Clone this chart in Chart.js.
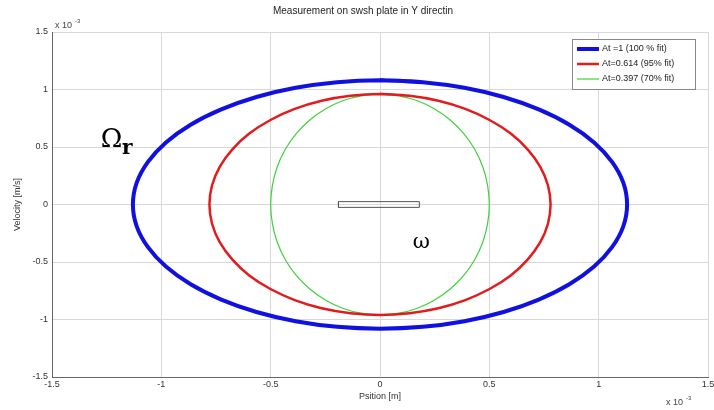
<!DOCTYPE html>
<html>
<head>
<meta charset="utf-8">
<script src="https://cdn.jsdelivr.net/npm/chart.js@4/dist/chart.umd.min.js"></script>
<style>
  html, body { margin: 0; padding: 0; background: #fff; }
  #wrap { width: 714px; height: 410px; }
</style>
</head>
<body>
<div id="wrap"><canvas id="plot" width="714" height="410"></canvas></div>
<script>
// values in units of 1e-3 (axes show "x 10^-3")
var seriesLabels = ['At =1 (100 % fit)', 'At=0.614 (95% fit)', 'At=0.397 (70% fit)'];
var seriesColors = ['#1010e0', '#e21c1c', '#3cd23c'];
var seriesWidths = [4, 2.5, 1.2];

// points, going clockwise from the top, one point of overlap at the end
var blueX  = [0, 0.196, 0.386, 0.565, 0.726, 0.866, 0.979, 1.062, 1.113, 1.13,
              1.113, 1.062, 0.979, 0.866, 0.726, 0.565, 0.386, 0.196, 0,
              -0.196, -0.386, -0.565, -0.726, -0.866, -0.979, -1.062, -1.113, -1.13,
              -1.113, -1.062, -0.979, -0.866, -0.726, -0.565, -0.386, -0.196, 0, 0.196];
var blueY  = [1.08, 1.064, 1.015, 0.935, 0.827, 0.694, 0.54, 0.369, 0.188, 0,
              -0.188, -0.369, -0.54, -0.694, -0.827, -0.935, -1.015, -1.064, -1.08,
              -1.064, -1.015, -0.935, -0.827, -0.694, -0.54, -0.369, -0.188, 0,
              0.188, 0.369, 0.54, 0.694, 0.827, 0.935, 1.015, 1.064, 1.08, 1.064];
var redX   = [0, 0.135, 0.267, 0.39, 0.501, 0.598, 0.675, 0.733, 0.768, 0.78,
              0.768, 0.733, 0.675, 0.598, 0.501, 0.39, 0.267, 0.135, 0,
              -0.135, -0.267, -0.39, -0.501, -0.598, -0.675, -0.733, -0.768, -0.78,
              -0.768, -0.733, -0.675, -0.598, -0.501, -0.39, -0.267, -0.135, 0, 0.135];
var redY   = [0.96, 0.945, 0.902, 0.831, 0.735, 0.617, 0.48, 0.328, 0.167, 0,
              -0.167, -0.328, -0.48, -0.617, -0.735, -0.831, -0.902, -0.945, -0.96,
              -0.945, -0.902, -0.831, -0.735, -0.617, -0.48, -0.328, -0.167, 0,
              0.167, 0.328, 0.48, 0.617, 0.735, 0.831, 0.902, 0.945, 0.96, 0.945];
var greenX = [0, 0.087, 0.171, 0.25, 0.321, 0.383, 0.433, 0.47, 0.492, 0.5,
              0.492, 0.47, 0.433, 0.383, 0.321, 0.25, 0.171, 0.087, 0,
              -0.087, -0.171, -0.25, -0.321, -0.383, -0.433, -0.47, -0.492, -0.5,
              -0.492, -0.47, -0.433, -0.383, -0.321, -0.25, -0.171, -0.087, 0, 0.087];
var greenY = [0.96, 0.945, 0.902, 0.831, 0.735, 0.617, 0.48, 0.328, 0.167, 0,
              -0.167, -0.328, -0.48, -0.617, -0.735, -0.831, -0.902, -0.945, -0.96,
              -0.945, -0.902, -0.831, -0.735, -0.617, -0.48, -0.328, -0.167, 0,
              0.167, 0.328, 0.48, 0.617, 0.735, 0.831, 0.902, 0.945, 0.96, 0.945];

// the small plate outline in the middle
var plateX = [-0.19, 0.18, 0.18, -0.19, -0.19];
var plateY = [-0.025, -0.025, 0.025, 0.025, -0.025];

var tickValues = [-1.5, -1, -0.5, 0, 0.5, 1, 1.5];
var tickLabels = ['-1.5', '-1', '-0.5', '0', '0.5', '1', '1.5'];

var toPoints = function(xs, ys) {
  return xs.map(function(x, i) { return {x: x, y: ys[i]}; });
};

var lineSet = function(i, xs, ys) {
  return {
    label: seriesLabels[i],
    data: toPoints(xs, ys),
    showLine: true,
    borderColor: seriesColors[i],
    borderWidth: seriesWidths[i],
    pointRadius: 0,
    tension: 0.33,
    fill: false
  };
};

var fmtTick = function(v) {
  var i = tickValues.indexOf(Math.round(v * 10) / 10);
  return i >= 0 ? tickLabels[i] : '';
};

var extrasPlugin = {
  id: 'extras',
  afterDraw: function(chart) {
    var ctx = chart.ctx, a = chart.chartArea;
    var xs = chart.scales.x, ys = chart.scales.y;
    ctx.save();

    // exponent labels
    ctx.fillStyle = '#444';
    ctx.font = '9px "Liberation Sans", Arial, sans-serif';
    ctx.textBaseline = 'alphabetic';
    ctx.textAlign = 'left';
    ctx.fillText('x 10', a.left + 3, a.top - 4);
    ctx.font = '6px "Liberation Sans", Arial, sans-serif';
    ctx.fillText('-3', a.left + 23, a.top - 9);
    ctx.font = '9px "Liberation Sans", Arial, sans-serif';
    ctx.fillText('x 10', a.right - 42, a.bottom + 28);
    ctx.font = '6px "Liberation Sans", Arial, sans-serif';
    ctx.fillText('-3', a.right - 22, a.bottom + 23);

    // annotations
    ctx.fillStyle = '#000';
    ctx.font = '26px "DejaVu Serif", "Liberation Serif", serif';
    ctx.fillText('\u03A9', xs.getPixelForValue(-1.277), ys.getPixelForValue(0.496));
    ctx.font = 'bold 20px "DejaVu Serif", "Liberation Serif", serif';
    ctx.fillText('r', xs.getPixelForValue(-1.18), ys.getPixelForValue(0.435));
    ctx.font = '21px "DejaVu Serif", "Liberation Serif", serif';
    ctx.fillText('\u03C9', xs.getPixelForValue(0.15), ys.getPixelForValue(-0.374));

    // legend box inside top right
    var bx = a.right - 136, by = a.top + 7, bw = 123, bh = 50;
    ctx.fillStyle = '#fff';
    ctx.fillRect(bx, by, bw, bh);
    ctx.strokeStyle = '#888';
    ctx.lineWidth = 1;
    ctx.strokeRect(bx + 0.5, by + 0.5, bw, bh);
    ctx.font = '9px "Liberation Sans", Arial, sans-serif';
    ctx.textBaseline = 'middle';
    for (var i = 0; i < seriesLabels.length; i++) {
      var ly = by + 10 + i * 15;
      ctx.strokeStyle = seriesColors[i];
      ctx.lineWidth = seriesWidths[i];
      ctx.beginPath();
      ctx.moveTo(bx + 5, ly);
      ctx.lineTo(bx + 27, ly);
      ctx.stroke();
      ctx.fillStyle = '#222';
      ctx.fillText(seriesLabels[i], bx + 30, ly);
    }
    ctx.restore();
  }
};

var gridColor = '#d8d8d8';
var tickFont = { family: '"Liberation Sans", Arial, sans-serif', size: 9 };

new Chart(document.getElementById('plot').getContext('2d'), {
  type: 'scatter',
  data: {
    datasets: [
      lineSet(0, blueX, blueY),
      lineSet(1, redX, redY),
      lineSet(2, greenX, greenY),
      {
        label: 'plate',
        data: toPoints(plateX, plateY),
        showLine: true,
        borderColor: '#555',
        borderWidth: 1,
        pointRadius: 0,
        tension: 0,
        fill: false
      }
    ]
  },
  options: {
    responsive: false,
    animation: false,
    layout: { padding: { left: 12, right: 0, top: 0, bottom: 8 } },
    plugins: {
      legend: { display: false },
      tooltip: { enabled: false },
      title: {
        display: true,
        text: 'Measurement on swsh plate in Y directin',
        color: '#222',
        font: { family: '"Liberation Sans", Arial, sans-serif', size: 10, weight: 'normal' },
        padding: { top: 5, bottom: 15 }
      }
    },
    scales: {
      x: {
        type: 'linear',
        min: -1.5,
        max: 1.5,
        afterBuildTicks: function(s) { s.ticks = tickValues.map(function(v) { return {value: v}; }); },
        afterFit: function(s) { s.height = 25; s.paddingRight = 6; },
        ticks: { callback: fmtTick, color: '#333', font: tickFont, padding: 2, maxRotation: 0 },
        grid: { color: gridColor, drawTicks: false },
        border: { color: '#666' },
        title: { display: true, text: 'Psition [m]', color: '#333', font: tickFont, padding: { top: 1, bottom: 0 } }
      },
      y: {
        type: 'linear',
        min: -1.5,
        max: 1.5,
        afterBuildTicks: function(s) { s.ticks = tickValues.map(function(v) { return {value: v}; }); },
        afterFit: function(s) { s.width = 40; },
        ticks: { callback: fmtTick, color: '#333', font: tickFont, padding: 4 },
        grid: { color: gridColor, drawTicks: false },
        border: { color: '#666' },
        title: { display: true, text: 'Velocity [m/s]', color: '#333', font: tickFont, padding: { top: 0, bottom: 6 } }
      }
    }
  },
  plugins: [extrasPlugin]
});
</script>
</body>
</html>
